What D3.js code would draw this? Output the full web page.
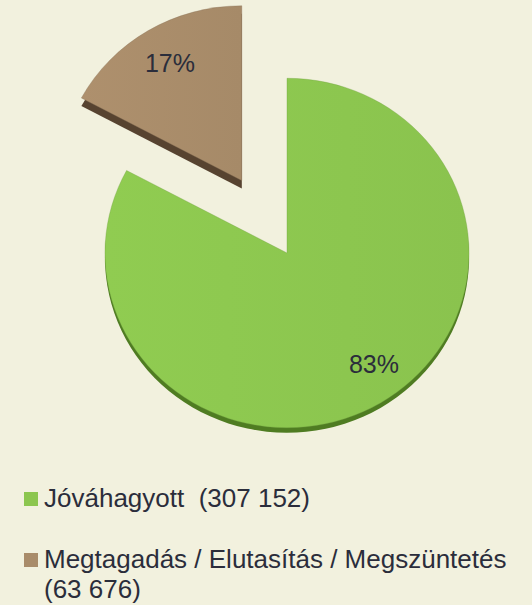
<!DOCTYPE html>
<html>
<head>
<meta charset="utf-8">
<script src="https://cdn.jsdelivr.net/npm/d3@7"></script>
<style>
  body { margin: 0; background: #f2f1de; }
  svg { display: block; }
  text { font-family: "Liberation Sans", Arial, sans-serif; fill: #2b2d3b; }
</style>
</head>
<body>
<svg id="chart" width="532" height="605"></svg>
<script>
var categories = ["Jóváhagyott", "Megtagadás / Elutasítás / Megszüntetés"];
var values = [307152, 63676];
var colors = ["#8cc64f", "#a98c6a"];
var sideColors = ["#4f7c22", "#574330"];

var width = 532, height = 605;
var cx = 287, cy = 253;
var radius = 182, tilt = 0.96;
var depth = [5, 8];
var explode = [0, 88];
var labelShift = [[15, -4], [0, -2]];

var svg = d3.select("#chart");
var fmt = d3.formatLocale({ decimal: ",", thousands: " ", grouping: [3], currency: ["", ""] }).format(",d");
var total = d3.sum(values);

var pie = d3.pie().sort(null).startAngle(0).endAngle(2 * Math.PI);
var arcs = pie(values);
var arc = d3.arc().innerRadius(0).outerRadius(radius);
var labelArc = d3.arc().innerRadius(140).outerRadius(140);

// light gradient across each top face
var defs = svg.append("defs");
colors.forEach(function(c, i) {
  var g = defs.append("linearGradient").attr("id", "face" + i)
    .attr("x1", "0%").attr("x2", "100%").attr("y1", "0%").attr("y2", "0%");
  g.append("stop").attr("offset", "0%").attr("stop-color", d3.color(c).brighter(0.08));
  g.append("stop").attr("offset", "100%").attr("stop-color", d3.color(c).darker(0.05));
});

function offset(d, i) {
  var mid = (d.startAngle + d.endAngle) / 2;
  return [Math.sin(mid) * explode[i], -Math.cos(mid) * explode[i]];
}

var slices = svg.selectAll("g.slice").data(arcs).enter()
  .append("g")
  .attr("class", "slice")
  .attr("transform", function(d, i) {
    var o = offset(d, i);
    return "translate(" + (cx + o[0]) + "," + (cy + o[1] * tilt) + ")";
  });

// side (thickness)
slices.append("path")
  .attr("d", arc)
  .attr("transform", function(d, i) { return "translate(0," + depth[i] + ") scale(1," + tilt + ")"; })
  .attr("fill", function(d, i) { return sideColors[i]; });

// top face
slices.append("path")
  .attr("d", arc)
  .attr("transform", "scale(1," + tilt + ")")
  .attr("fill", function(d, i) { return "url(#face" + i + ")"; })
  .attr("stroke", function(d, i) { return d3.color(colors[i]).darker(0.6); })
  .attr("stroke-width", 0.6)
  .attr("stroke-opacity", 0.6);

// percentage labels
slices.append("text")
  .attr("x", function(d, i) { return labelArc.centroid(d)[0] + labelShift[i][0]; })
  .attr("y", function(d, i) { return labelArc.centroid(d)[1] * tilt + labelShift[i][1]; })
  .attr("dy", "0.35em")
  .attr("text-anchor", "middle")
  .attr("font-size", 25)
  .text(function(d) { return Math.round(d.value / total * 100) + "%"; });

// legend
var legendY = [492, 553];
var legend = svg.selectAll("g.legend").data(categories).enter()
  .append("g")
  .attr("class", "legend")
  .attr("transform", function(d, i) { return "translate(24," + legendY[i] + ")"; });

legend.append("rect")
  .attr("width", 14).attr("height", 14)
  .attr("fill", function(d, i) { return colors[i]; });

legend.append("text")
  .attr("x", 20)
  .attr("y", 15)
  .attr("font-size", 26)
  .style("white-space", "pre")
  .each(function(d, i) {
    var t = d3.select(this);
    if (i === 0) {
      t.text(d + "  (" + fmt(values[i]) + ")");
    } else {
      t.append("tspan").attr("x", 20).text(d);
      t.append("tspan").attr("x", 20).attr("dy", 30).text("(" + fmt(values[i]) + ")");
    }
  });
</script>
</body>
</html>
